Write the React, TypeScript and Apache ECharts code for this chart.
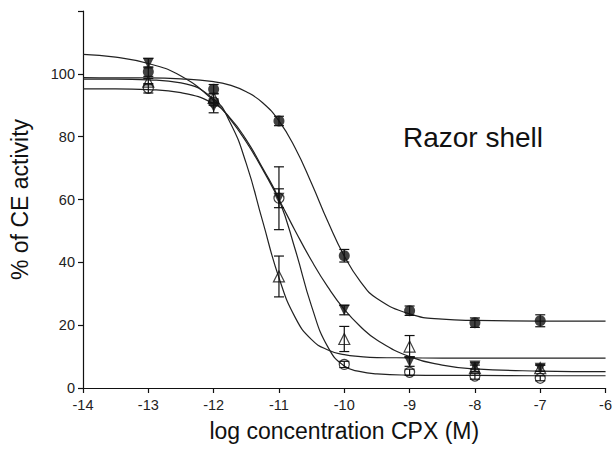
import React, { useEffect, useRef } from "react";
import * as echarts from "echarts";

const curveX = [-14, -13.5, -13, -12.5, -12, -11.75, -11.5, -11.25, -11, -10.75, -10.5, -10.25, -10, -9.75, -9.5, -9, -8.5, -8, -7, -6];
// fitted curves (% of CE activity)
const curveFilledCircle = [98.8, 98.7, 98.7, 98.4, 97.5, 96.4, 94.3, 90.8, 85.0, 76.3, 65.1, 52.9, 42.0, 33.8, 28.5, 23.6, 21.9, 21.5, 21.3, 21.3];
const curveFilledTriangle = [106.2, 105.3, 103.3, 99.3, 91.5, 85.7, 78.3, 69.6, 60.0, 50.0, 40.5, 32.1, 25.0, 19.5, 15.3, 10.0, 7.3, 6.1, 5.4, 5.2];
const curveOpenTriangle = [98.3, 98.3, 98.1, 97.1, 92.0, 84.6, 71.4, 53.1, 35.1, 22.4, 15.4, 12.1, 10.6, 10.0, 9.7, 9.6, 9.5, 9.5, 9.5, 9.5];
const curveOpenCircle = [95.2, 95.2, 95.0, 94.0, 90.5, 86.0, 79.0, 70.0, 60.0, 44.0, 26.0, 13.0, 7.0, 5.2, 4.5, 4.1, 4.0, 4.0, 3.9, 3.9];

// measured concentrations
const doseX = [-13, -12, -11, -10, -9, -8, -7];
// means and errors
const meanFilledCircle = [100.7, 95.1, 85.0, 42.1, 24.6, 20.8, 21.4];
const errFilledCircle = [1.5, 1.5, 1.5, 2.0, 1.5, 1.5, 1.9];
const meanFilledTriangle = [103.4, 89.6, 60.4, 24.8, 8.4, 7.0, 6.3];
const errFilledTriangle = [1.5, 2.0, 3.0, 1.5, 1.5, 1.0, 1.0];
const meanOpenTriangle = [97.5, 92.3, 35.5, 15.6, 13.2, 6.3, 6.3];
const errOpenTriangle = [1.0, 1.5, 6.5, 4.0, 3.5, 1.0, 1.0];
const meanOpenCircle = [95.4, 91.0, 60.4, 7.5, 5.0, 3.8, 3.1];
const errOpenCircle = [1.5, 1.0, 10.0, 1.0, 1.0, 1.0, 0.8];

const FONT = "'Liberation Sans', Arial, Helvetica, sans-serif";
const INK = "#111";

function curve(vals: number[]) {
  return curveX.map((x, i) => [x, vals[i]]);
}
function pts(means: number[]) {
  return doseX.map((x, i) => [x, means[i]]);
}
function errs(means: number[], e: number[]) {
  return doseX.map((x, i) => [x, means[i], e[i]]);
}

function errorRender(params: any, api: any) {
  const x = api.value(0);
  const m = api.value(1);
  const e = api.value(2);
  const hi = api.coord([x, m + e]);
  const lo = api.coord([x, m - e]);
  const w = 5;
  const style = { stroke: INK, lineWidth: 1.2 };
  return {
    type: "group",
    children: [
      { type: "line", shape: { x1: hi[0], y1: hi[1], x2: lo[0], y2: lo[1] }, style },
      { type: "line", shape: { x1: hi[0] - w, y1: hi[1], x2: hi[0] + w, y2: hi[1] }, style },
      { type: "line", shape: { x1: lo[0] - w, y1: lo[1], x2: lo[0] + w, y2: lo[1] }, style },
    ],
  };
}

export default function App() {
  const ref = useRef<HTMLDivElement>(null);
  useEffect(() => {
    if (!ref.current) return;
    const chart = echarts.init(ref.current, undefined, { renderer: "svg" });
    const lineSeries = (vals: number[]) => ({
      type: "line",
      data: curve(vals),
      smooth: 0.5,
      showSymbol: false,
      symbol: "none",
      lineStyle: { color: "#222", width: 1.2 },
      z: 2,
      silent: true,
    });
    const errSeries = (m: number[], e: number[]) => ({
      type: "custom",
      data: errs(m, e),
      renderItem: errorRender,
      z: 3,
      silent: true,
    });
    chart.setOption({
      animation: false,
      backgroundColor: "#fff",
      grid: { left: 80, right: 9, top: 11, bottom: 69, containLabel: false },
      xAxis: {
        type: "value",
        min: -14,
        max: -6,
        interval: 1,
        axisLine: { show: true, onZero: false, lineStyle: { color: INK, width: 1.2 } },
        axisTick: { show: true, inside: false, length: 5, lineStyle: { color: INK, width: 1.2 } },
        axisLabel: { color: "#222", fontSize: 14.5, fontFamily: FONT, margin: 9 },
        splitLine: { show: false },
        name: "log concentration CPX (M)",
        nameLocation: "middle",
        nameGap: 31,
        nameTextStyle: { color: INK, fontSize: 23, fontFamily: FONT },
      },
      yAxis: {
        type: "value",
        min: 0,
        max: 120,
        interval: 20,
        axisLine: { show: true, lineStyle: { color: INK, width: 1.2 } },
        axisTick: { show: true, inside: false, length: 5, lineStyle: { color: INK, width: 1.2 } },
        axisLabel: {
          color: "#222",
          fontSize: 14.5,
          fontFamily: FONT,
          margin: 8,
          formatter: (v: number) => (v === 120 ? "" : String(v)),
        },
        splitLine: { show: false },
        name: "% of CE activity",
        nameLocation: "middle",
        nameRotate: 90,
        nameGap: 52,
        nameTextStyle: { color: INK, fontSize: 23, fontFamily: FONT },
      },
      graphic: [
        {
          type: "text",
          left: 403,
          top: 123,
          style: { text: "Razor shell", fontSize: 28, fontFamily: FONT, fill: INK },
        },
      ],
      series: [
        lineSeries(curveFilledCircle),
        lineSeries(curveFilledTriangle),
        lineSeries(curveOpenTriangle),
        lineSeries(curveOpenCircle),
        errSeries(meanFilledCircle, errFilledCircle),
        errSeries(meanFilledTriangle, errFilledTriangle),
        errSeries(meanOpenTriangle, errOpenTriangle),
        errSeries(meanOpenCircle, errOpenCircle),
        {
          type: "scatter",
          data: pts(meanOpenCircle),
          symbol: "circle",
          symbolSize: 10,
          itemStyle: { color: "rgba(255,255,255,0)", borderColor: INK, borderWidth: 1.2 },
          z: 4,
          silent: true,
        },
        {
          type: "scatter",
          data: pts(meanOpenTriangle),
          symbol: "triangle",
          symbolSize: 11,
          itemStyle: { color: "rgba(255,255,255,0)", borderColor: INK, borderWidth: 1.2 },
          z: 4,
          silent: true,
        },
        {
          type: "scatter",
          data: pts(meanFilledTriangle),
          symbol: "triangle",
          symbolRotate: 180,
          symbolSize: 11,
          itemStyle: { color: INK },
          z: 5,
          silent: true,
        },
        {
          type: "scatter",
          data: pts(meanFilledCircle),
          symbol: "circle",
          symbolSize: 11,
          itemStyle: { color: INK },
          z: 5,
          silent: true,
        },
      ],
    });
    return () => chart.dispose();
  }, []);
  return (
    <div
      ref={ref}
      style={{ position: "absolute", left: 0, top: 0, width: 615, height: 457, background: "#fff" }}
    />
  );
}
